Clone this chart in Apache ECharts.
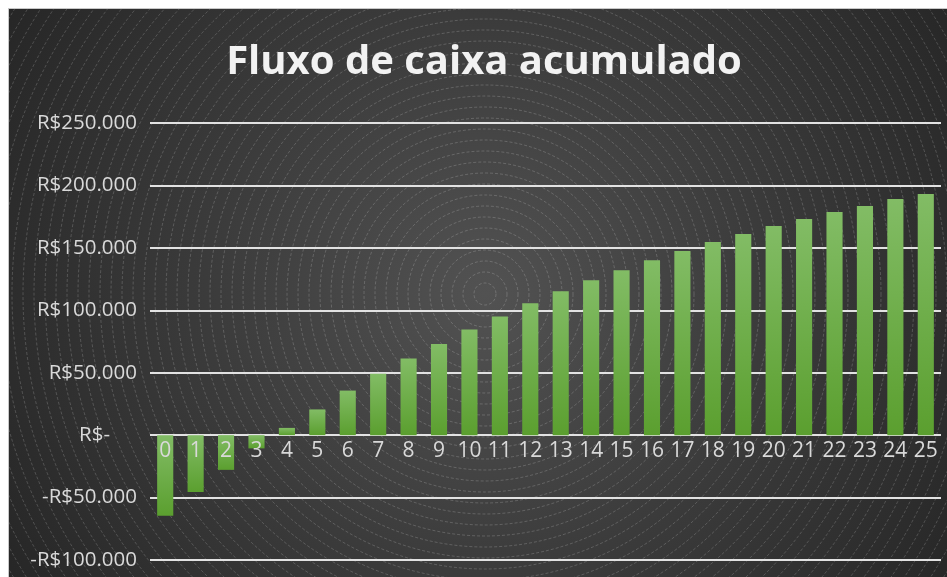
<!DOCTYPE html>
<html>
<head>
<meta charset="utf-8">
<script src="https://cdn.jsdelivr.net/npm/echarts@6/dist/echarts.min.js"></script>
<style>
html,body{margin:0;padding:0;background:#ffffff;}
#wrap{position:absolute;left:8px;top:8px;width:939px;height:569px;border-top:1px solid #c8c8c8;border-left:1px solid #c8c8c8;box-sizing:border-box;}
#chart{width:100%;height:100%;}
</style>
</head>
<body>
<div id="wrap"><div id="chart"></div></div>
<script>
const titleText = 'Fluxo de caixa acumulado';
const years = ['0','1','2','3','4','5','6','7','8','9','10','11','12','13','14','15','16','17','18','19','20','21','22','23','24','25'];
const cumulativeCash = [-64600,-45500,-27800,-10600,5800,20600,35700,49200,61400,72900,84700,95100,105600,115200,124100,132100,140100,147400,154600,161000,167500,173100,178700,183600,189200,193200];
const yMin = -100000, yMax = 250000, yStep = 50000;

function fmt(v){
  if (v === 0) return '{z|R$-}';
  const s = Math.abs(v).toString().replace(/\B(?=(\d{3})+(?!\d))/g, '.');
  return (v < 0 ? '-' : '') + 'R$' + s;
}

const chart = echarts.init(document.getElementById('chart'), null, {renderer:'canvas'});
const W = chart.getWidth(), H = chart.getHeight();
const cx = 476, cy = 285;
const gridTop = 114, gridBottom = 17;
const gridH = H - gridTop - gridBottom;
const zeroOffset = -gridH * (0 - yMin) / (yMax - yMin);

const graphics = [{
  type:'rect', z:-10, silent:true,
  shape:{x:0,y:0,width:W,height:H},
  style:{fill:{type:'radial', x:cx, y:cy, r:560, global:true,
    colorStops:[{offset:0,color:'#525252'},{offset:0.5,color:'#3b3b3b'},{offset:1,color:'#262626'}]}}
}];
for (let r = 11; r < 620; r += 11) {
  graphics.push({type:'circle', z:-9, silent:true, shape:{cx:cx, cy:cy, r:r},
    style:{fill:'none', stroke:'rgba(255,255,255,0.18)', lineWidth:1, lineDash:[3,2]}});
}

chart.setOption({
  animation:false,
  graphic: graphics,
  title:{
    text: titleText,
    left: 470, textAlign:'center', top: 29,
    textStyle:{color:'#f2f2f2', fontSize:40, fontWeight:'bold', fontFamily:'Open Sans'}
  },
  grid:{left:141, right:6, top:gridTop, bottom:gridBottom, containLabel:false},
  xAxis:{
    type:'category', data: years, position:'bottom', offset: zeroOffset, z:10,
    axisLine:{show:false, onZero:false}, axisTick:{show:false},
    axisLabel:{color:'#d9d9d9', fontSize:21, fontFamily:'Open Sans', margin:5, interval:0}
  },
  yAxis:{
    type:'value', min:yMin, max:yMax, interval:yStep,
    axisLine:{show:false}, axisTick:{show:false},
    splitLine:{lineStyle:{color:'#e2e2e2', width:2}},
    axisLabel:{color:'#d9d9d9', fontSize:20.5, fontFamily:'Open Sans', margin:13,
      formatter: fmt, rich:{z:{color:'#d9d9d9', fontSize:20.5, fontFamily:'Open Sans', padding:[0,27,0,0]}}}
  },
  series:[{
    type:'bar', data: cumulativeCash, barWidth:'53%', z:2,
    itemStyle:{color:{type:'linear', x:0, y:0, x2:0, y2:1,
      colorStops:[{offset:0,color:'#82bc65'},{offset:1,color:'#5b9f2f'}]}}
  }]
});
</script>
</body>
</html>
